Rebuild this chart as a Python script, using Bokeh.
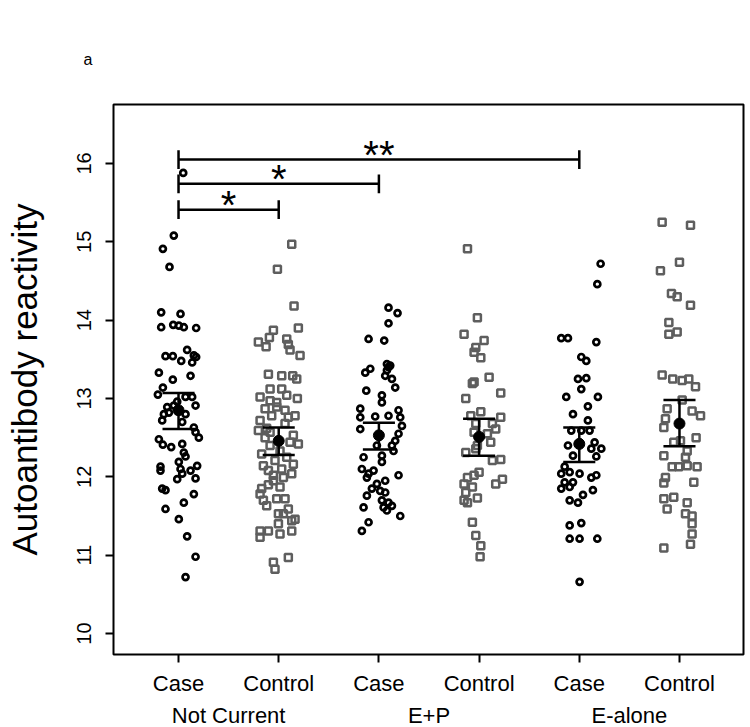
from bokeh.plotting import figure
from bokeh.models import FixedTicker, LinearAxis
from bokeh.core.properties import value
from bokeh.embed import file_html
from bokeh.resources import INLINE

# ---------------- data ----------------
categories = ["Case", "Control", "Case", "Control", "Case", "Control"]
groups = ["Not Current", "E+P", "E-alone"]
group_centers = [1.5, 3.5, 5.5]
yticks = [10, 11, 12, 13, 14, 15, 16]
panel_tag = "a"

nc_case = [15.88, 15.08, 14.91, 14.68, 14.10, 14.08, 13.91, 13.94, 13.93, 13.91, 13.90,
           13.54, 13.54, 13.48, 13.62, 13.55, 13.53, 13.46, 13.33, 13.24, 13.29, 13.14,
           13.05, 13.02, 13.02, 12.91, 12.89, 12.91, 12.96, 12.82, 12.80, 12.80, 12.72,
           12.70, 12.63, 12.57, 12.50, 12.48, 12.41, 12.38, 12.42, 12.31, 12.26, 12.13,
           12.08, 12.19, 12.10, 12.04, 11.97, 12.08, 12.14, 11.98, 11.85, 11.83, 11.78,
           11.67, 11.59, 11.46, 11.24, 10.98, 10.72]
nc_case_jit = [0.047, -0.047, -0.156, -0.090, -0.173, 0.020, -0.173, -0.053, 0.003, 0.053, 0.176,
               -0.130, -0.057, 0.027, 0.086, 0.153, 0.176, 0.136, -0.196, -0.057, 0.120, -0.156,
               -0.206, 0.070, 0.136, 0.170, -0.113, -0.047, -0.013, -0.096, -0.146, 0.070, -0.163,
               0.037, 0.153, 0.170, 0.203, -0.196, -0.156, -0.073, 0.037, 0.053, 0.070, -0.180,
               -0.180, 0.003, 0.020, 0.037, -0.013, 0.120, 0.186, 0.170, -0.163, -0.130, 0.153,
               0.053, -0.130, 0.003, 0.086, 0.170, 0.070]

nc_ctrl = [14.97, 14.65, 14.18, 13.90, 13.87, 13.78, 13.72, 13.66, 13.76, 13.69, 13.62, 13.55,
           13.31, 13.29, 13.29, 13.25, 13.12, 13.12, 13.02, 13.00, 13.04, 12.97, 12.89, 12.85,
           12.87, 12.78, 12.72, 12.78, 12.76, 12.59, 12.57, 12.50, 12.53, 12.42, 12.40, 12.44,
           12.29, 12.21, 12.16, 12.14, 12.08, 12.10, 12.04, 12.02, 11.99, 11.87, 11.85, 11.78,
           11.70, 11.72, 11.72, 11.63, 11.59, 11.53, 11.46, 11.44, 11.53, 11.40, 11.31, 11.27,
           11.31, 11.31, 11.23, 10.91, 10.97, 10.82, 12.95, 12.68, 12.62, 12.33, 12.25, 11.95,
           11.90]
nc_ctrl_jit = [0.130, -0.013, 0.153, 0.196, -0.053, -0.093, -0.203, -0.126, 0.080, 0.096, 0.113, 0.213,
               -0.103, 0.030, 0.140, 0.180, -0.086, 0.030, -0.186, 0.186, 0.080, -0.086, -0.020, 0.063,
               -0.136, 0.163, -0.186, -0.070, 0.096, -0.203, -0.086, -0.136, 0.146, 0.196, -0.086, 0.113,
               -0.170, -0.037, 0.146, -0.153, -0.103, 0.030, 0.130, -0.053, 0.047, 0.013, -0.170, -0.186,
               -0.153, -0.020, 0.063, -0.120, 0.096, -0.003, 0.163, 0.130, 0.047, -0.003, 0.130, 0.013,
               -0.186, -0.103, -0.186, -0.053, 0.096, -0.037, -0.020, 0.063, -0.120, 0.013, 0.080, -0.053,
               -0.103]

ep_case = [14.16, 14.09, 13.96, 13.76, 13.74, 13.40, 13.36, 13.38, 13.33, 13.29, 13.14, 13.25,
           13.10, 13.04, 12.95, 12.87, 12.76, 12.77, 12.78, 12.85, 12.76, 12.61, 12.65, 12.55,
           12.46, 12.40, 12.40, 12.27, 12.25, 12.33, 12.10, 12.04, 12.19, 12.08, 11.99, 12.02,
           11.95, 11.91, 11.85, 11.82, 11.76, 11.80, 11.70, 11.67, 11.61, 11.63, 11.61, 11.57,
           11.50, 11.42, 11.31, 13.42, 13.44]
ep_case_jit = [0.096, 0.186, 0.096, -0.103, 0.053, 0.096, 0.080, -0.086, -0.136, 0.063, 0.163, 0.130,
               -0.126, 0.030, 0.030, -0.186, -0.186, -0.037, 0.096, 0.196, 0.213, -0.186, 0.230, 0.196,
               0.163, 0.130, -0.020, 0.030, -0.153, 0.146, -0.170, -0.103, 0.030, -0.053, -0.120, 0.196,
               0.063, -0.020, -0.070, 0.013, -0.120, 0.063, 0.030, 0.096, 0.047, 0.130, -0.153, 0.080,
               0.213, -0.103, -0.170, 0.113, 0.080]

ep_ctrl = [14.91, 14.03, 13.82, 13.74, 13.65, 13.59, 13.52, 13.19, 13.21, 13.27, 13.00, 13.07,
           12.83, 12.78, 12.76, 12.68, 12.68, 12.61, 12.55, 12.57, 12.44, 12.31, 12.40, 12.36,
           12.21, 12.22, 12.06, 12.02, 11.99, 11.91, 11.97, 11.91, 11.87, 11.80, 11.73, 11.70,
           11.67, 11.42, 11.25, 11.12, 10.98]
ep_ctrl_jit = [-0.116, -0.017, -0.150, 0.050, -0.033, -0.050, 0.017, -0.067, -0.050, 0.100, -0.133, 0.216,
               0.017, -0.083, 0.216, 0.133, -0.033, 0.166, 0.083, -0.050, 0.116, -0.133, -0.017, -0.033,
               0.133, 0.216, 0.000, -0.050, -0.116, 0.166, 0.233, -0.150, -0.067, -0.133, -0.017, -0.150,
               -0.116, -0.067, -0.033, 0.017, 0.010]

ea_case = [14.72, 14.46, 13.77, 13.77, 13.72, 13.53, 13.48, 13.26, 13.25, 13.12, 13.02, 13.02,
           12.90, 12.80, 12.72, 12.59, 12.59, 12.59, 12.40, 12.44, 12.36, 12.44, 12.36, 12.26,
           12.27, 12.13, 12.04, 12.06, 12.04, 11.99, 12.02, 11.93, 11.93, 11.85, 11.87, 11.83,
           11.77, 11.70, 11.67, 11.38, 11.41, 11.21, 11.21, 11.21, 10.66]
ea_case_jit = [0.213, 0.180, -0.180, -0.113, 0.170, 0.020, 0.070, 0.070, -0.013, 0.020, -0.130, 0.186,
               0.086, -0.063, 0.086, -0.080, 0.020, 0.103, -0.113, 0.003, 0.120, 0.153, 0.220, 0.170,
               -0.063, -0.146, -0.180, -0.096, 0.003, 0.120, 0.170, -0.146, -0.063, -0.180, -0.096, 0.136,
               0.037, -0.096, -0.013, -0.096, 0.020, -0.096, 0.003, 0.180, 0.003]

ea_ctrl = [15.25, 15.21, 14.74, 14.63, 14.34, 14.30, 14.19, 13.97, 13.82, 13.85, 13.30, 13.25,
           13.23, 13.25, 13.15, 12.98, 12.87, 12.84, 12.78, 12.74, 12.63, 12.44, 12.46, 12.50,
           12.33, 12.27, 12.25, 12.13, 12.13, 12.13, 12.14, 11.99, 11.93, 11.92, 11.72, 11.74,
           11.59, 11.67, 11.53, 11.50, 11.40, 11.27, 11.14, 11.09]
ea_ctrl_jit = [-0.173, 0.110, 0.000, -0.190, -0.080, -0.023, 0.110, -0.106, -0.106, -0.023, -0.173, -0.067,
               0.027, 0.093, 0.160, 0.027, -0.123, 0.126, 0.210, -0.140, -0.156, -0.057, 0.010, 0.166,
               0.077, -0.156, 0.060, -0.073, -0.007, 0.176, 0.077, -0.140, 0.143, -0.156, -0.156, -0.057,
               -0.123, 0.077, 0.060, 0.126, 0.126, 0.126, 0.110, -0.156]

means = [12.85, 12.46, 12.53, 12.51, 12.42, 12.68]
se_low = [12.61, 12.28, 12.35, 12.27, 12.19, 12.39]
se_high = [13.07, 12.63, 12.69, 12.74, 12.63, 12.98]

cmp_left = [1, 1, 1]
cmp_right = [2, 3, 5]
cmp_level = [15.41, 15.74, 16.05]
cmp_mark = ["*", "*", "**"]

# ---------------- figure ----------------
FONT = "Liberation Sans"
GRAY = "#5e5e5e"

p = figure(frame_width=630, frame_height=550,
           x_range=(0.351, 6.639), y_range=(9.732, 16.753),
           output_backend="svg", toolbar_location=None,
           min_border_left=113, min_border_right=7, min_border_top=104, min_border_bottom=73,
           background_fill_color="white", border_fill_color="white")
p.grid.visible = False
p.outline_line_color = "black"
p.outline_line_width = 2

# panel tag as title
p.title.text = panel_tag
p.title.align = "left"
p.title.offset = -30
p.title.standoff = 73
p.title.text_font = FONT
p.title.text_font_size = "16px"
p.title.text_font_style = "normal"
p.title.text_color = "black"

# y axis
ya = p.yaxis[0]
ya.ticker = FixedTicker(ticks=yticks, minor_ticks=[])
ya.axis_line_color = None
ya.major_tick_in = 0
ya.major_tick_out = 8
ya.major_tick_line_width = 2
ya.minor_tick_line_color = None
ya.major_label_orientation = "parallel"
ya.major_label_text_font = FONT
ya.major_label_text_font_size = "20px"
ya.major_label_text_color = "black"
ya.major_label_standoff = 14
ya.axis_label = "Autoantibody reactivity"
ya.axis_label_text_font = FONT
ya.axis_label_text_font_size = "35px"
ya.axis_label_text_font_style = "normal"
ya.axis_label_text_color = "black"
ya.axis_label_standoff = 31

# x axis (categories)
xa = p.xaxis[0]
xa.ticker = FixedTicker(ticks=[1, 2, 3, 4, 5, 6], minor_ticks=[])
xa.major_label_overrides = {i + 1: c for i, c in enumerate(categories)}
xa.axis_line_color = None
xa.major_tick_in = 0
xa.major_tick_out = 8
xa.major_tick_line_width = 2
xa.minor_tick_line_color = None
xa.major_label_text_font = FONT
xa.major_label_text_font_size = "22px"
xa.major_label_text_color = "black"
xa.major_label_standoff = 8

# second x axis (groups)
ga = LinearAxis(ticker=FixedTicker(ticks=group_centers, minor_ticks=[]))
ga.major_label_overrides = {c: g for c, g in zip(group_centers, groups)}
ga.axis_line_color = None
ga.major_tick_line_color = None
ga.major_tick_in = 0
ga.major_tick_out = 0
ga.minor_tick_line_color = None
ga.major_label_text_font = FONT
ga.major_label_text_font_size = "22px"
ga.major_label_text_color = "black"
ga.major_label_standoff = 4
p.add_layout(ga, "below")

# points
case_sets = [(1, nc_case, nc_case_jit), (3, ep_case, ep_case_jit), (5, ea_case, ea_case_jit)]
ctrl_sets = [(2, nc_ctrl, nc_ctrl_jit), (4, ep_ctrl, ep_ctrl_jit), (6, ea_ctrl, ea_ctrl_jit)]
for pos, vals, jit in case_sets:
    p.scatter([pos + j for j in jit], vals, marker="circle", size=6,
              fill_color=None, line_color="black", line_width=2.7)
for pos, vals, jit in ctrl_sets:
    p.scatter([pos + j for j in jit], vals, marker="square", size=7,
              fill_color=None, line_color=GRAY, line_width=2.5)

# means and error bars
xs = [1, 2, 3, 4, 5, 6]
p.segment(xs, se_low, xs, se_high, line_color="black", line_width=2.5)
p.segment([x - 0.16 for x in xs], se_low, [x + 0.16 for x in xs], se_low, line_color="black", line_width=2.5)
p.segment([x - 0.16 for x in xs], se_high, [x + 0.16 for x in xs], se_high, line_color="black", line_width=2.5)
p.scatter(xs, means, marker="circle", size=11, fill_color="black", line_color="black")

# significance brackets
tick_h = 0.12
p.segment(cmp_left, cmp_level, cmp_right, cmp_level, line_color="black", line_width=2.5)
p.segment(cmp_left, [v - tick_h for v in cmp_level], cmp_left, [v + tick_h for v in cmp_level],
          line_color="black", line_width=2.5)
p.segment(cmp_right, [v - tick_h for v in cmp_level], cmp_right, [v + tick_h for v in cmp_level],
          line_color="black", line_width=2.5)
p.text([(a + b) / 2 for a, b in zip(cmp_left, cmp_right)], cmp_level, text=cmp_mark,
       text_font=value(FONT), text_font_size="40px", text_align="center",
       text_baseline="alphabetic", y_offset=-5, text_color="black")

open("out.html", "w").write(file_html(p, INLINE))
